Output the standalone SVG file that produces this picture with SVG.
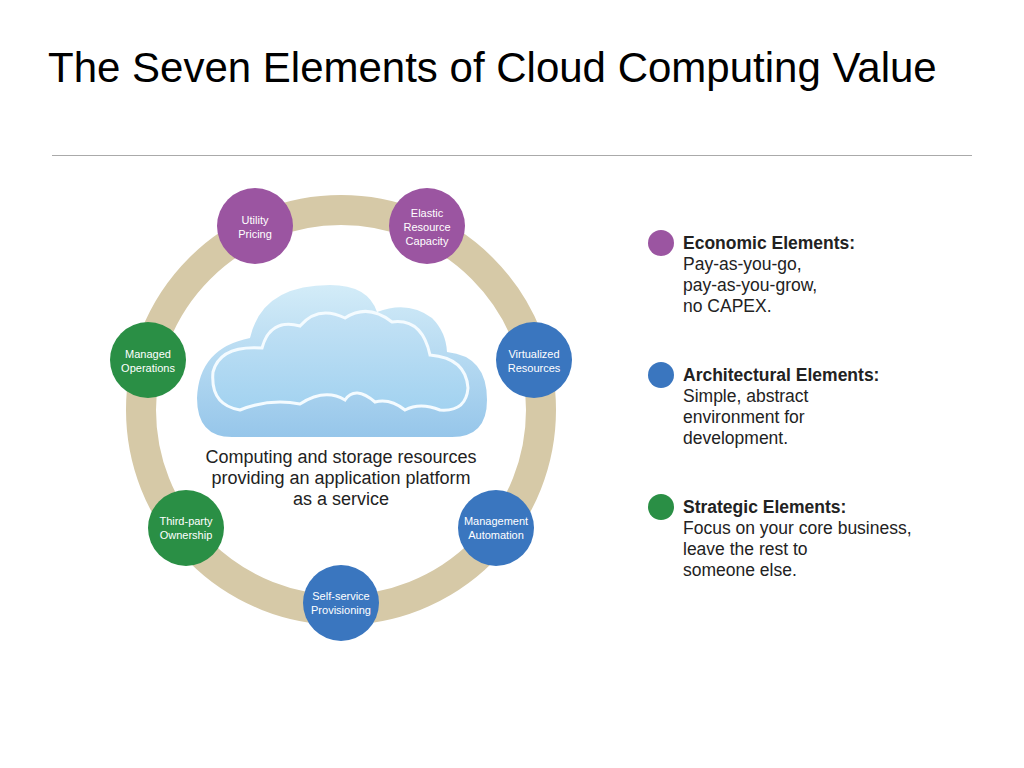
<svg xmlns="http://www.w3.org/2000/svg" width="1024" height="768" viewBox="0 0 1024 768">
<style>
.n text{font-family:"Liberation Sans",Arial,sans-serif;font-size:11px;fill:#fff;text-anchor:middle}
.t{font-family:"Liberation Sans",Arial,sans-serif;font-size:17.5px;fill:#222}
.b{font-weight:bold}
.p{fill:#9b55a1}.bl{fill:#3a76bf}.g{fill:#2a8f45}
</style>
<defs>
<linearGradient id="cg" x1="0" y1="0" x2="0" y2="1"><stop offset="0" stop-color="#d3ecf8"/><stop offset="1" stop-color="#96c6ea"/></linearGradient>
<linearGradient id="cg2" x1="0" y1="0" x2="0" y2="1"><stop offset="0" stop-color="#c4e2f5"/><stop offset="1" stop-color="#a2d2f0"/></linearGradient>
</defs>
<rect width="1024" height="768" fill="#fff"/>
<text x="48" y="82" font-family="Liberation Sans,Arial,sans-serif" font-size="42" fill="#000">The Seven Elements of Cloud Computing Value</text>
<line x1="52" y1="155.5" x2="972" y2="155.5" stroke="#aaa" stroke-width="1"/>
<circle cx="341" cy="410" r="200" fill="none" stroke="#d6c9a7" stroke-width="30"/>
<g id="cloud">
<path d="M232,437 Q197,437 197,398 Q199,348 250,338 Q262,285 330,285 Q368,285 377,312 Q408,300 432,318 Q446,332 447,352 Q487,356 487,400 Q487,437 452,437 Z" fill="url(#cg)"/>
<path d="M240,410 Q210,405 213,372 Q220,345 262,348 Q270,318 300,326 Q318,305 345,318 Q368,303 392,322 Q422,318 430,355 Q466,358 468,388 Q466,412 440,410 Q420,402 405,410 Q390,398 375,402 Q355,385 345,400 Q325,388 300,404 Q270,398 240,410 Z" fill="url(#cg2)" stroke="#f4fbff" stroke-width="3"/>
</g>
<text class="t" font-size="18" text-anchor="middle" style="font-size:18px"><tspan x="341" y="463">Computing and storage resources</tspan><tspan x="341" y="484">providing an application platform</tspan><tspan x="341" y="505">as a service</tspan></text>
<g id="utility" class="n"><circle cx="255" cy="226" r="38" class="p"/><text><tspan x="255" y="224">Utility</tspan><tspan x="255" y="238">Pricing</tspan></text></g>
<g id="elastic" class="n"><circle cx="427" cy="226" r="38" class="p"/><text><tspan x="427" y="217">Elastic</tspan><tspan x="427" y="231">Resource</tspan><tspan x="427" y="245">Capacity</tspan></text></g>
<g id="virtualized" class="n"><circle cx="534" cy="360" r="38" class="bl"/><text><tspan x="534" y="358">Virtualized</tspan><tspan x="534" y="372">Resources</tspan></text></g>
<g id="management" class="n"><circle cx="496" cy="528" r="38" class="bl"/><text><tspan x="496" y="525">Management</tspan><tspan x="496" y="539">Automation</tspan></text></g>
<g id="selfservice" class="n"><circle cx="341" cy="603" r="38" class="bl"/><text><tspan x="341" y="600">Self-service</tspan><tspan x="341" y="614">Provisioning</tspan></text></g>
<g id="thirdparty" class="n"><circle cx="186" cy="528" r="38" class="g"/><text><tspan x="186" y="525">Third-party</tspan><tspan x="186" y="539">Ownership</tspan></text></g>
<g id="managed" class="n"><circle cx="148" cy="360" r="38" class="g"/><text><tspan x="148" y="358">Managed</tspan><tspan x="148" y="372">Operations</tspan></text></g>
<g id="legend">
<circle cx="661" cy="243" r="13" class="p"/>
<text class="t"><tspan x="683" y="249" class="b">Economic Elements:</tspan><tspan x="683" y="270">Pay-as-you-go,</tspan><tspan x="683" y="291">pay-as-you-grow,</tspan><tspan x="683" y="312">no CAPEX.</tspan></text>
<circle cx="661" cy="375" r="13" class="bl"/>
<text class="t"><tspan x="683" y="381" class="b">Architectural Elements:</tspan><tspan x="683" y="402">Simple, abstract</tspan><tspan x="683" y="423">environment for</tspan><tspan x="683" y="444">development.</tspan></text>
<circle cx="661" cy="507" r="13" class="g"/>
<text class="t"><tspan x="683" y="513" class="b">Strategic Elements:</tspan><tspan x="683" y="534">Focus on your core business,</tspan><tspan x="683" y="555">leave the rest to</tspan><tspan x="683" y="576">someone else.</tspan></text>
</g>
<g id="connectors"/>
</svg>
